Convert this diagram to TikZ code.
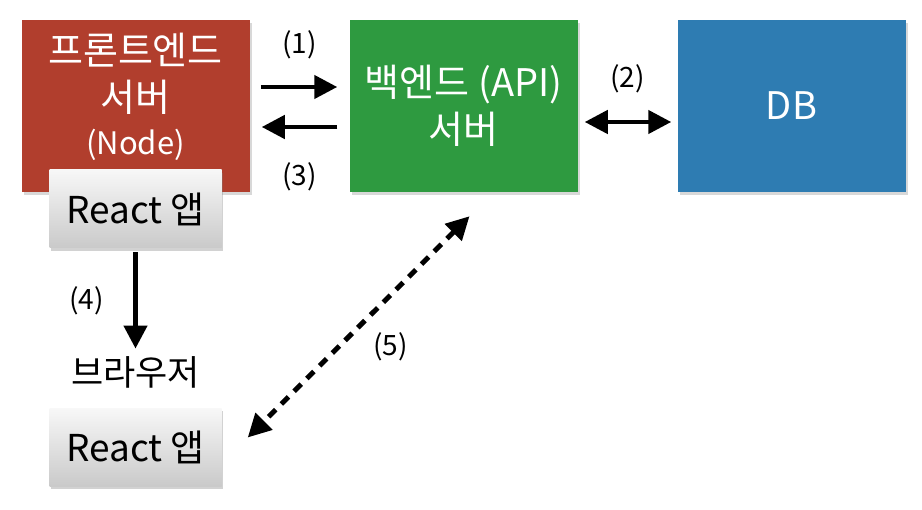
\documentclass[tikz,border=0pt]{standalone}
\usepackage{fontspec}
\setmainfont{Noto Sans CJK KR}
\usetikzlibrary{arrows.meta,shadows}
\definecolor{frontred}{RGB}{177,62,45}
\definecolor{backgreen}{RGB}{46,154,64}
\definecolor{dbblue}{RGB}{46,124,178}

\begin{document}
\begin{tikzpicture}[x=1pt,y=-1pt,>={Triangle[length=23pt,width=23pt]},line width=4.5pt,node distance=328pt,
                s node/.style={minimum width=228pt,minimum height=172pt,inner sep=0pt,text=white,align=center,
                font=\fontsize{38}{47}\selectfont,drop shadow={opacity=0.3,shadow xshift=2pt,shadow yshift=-3pt}},
                r node/.style={minimum width=172pt,minimum height=78pt,inner sep=0pt,top color=gray!6,bottom color=gray!42,
                font=\fontsize{37}{42}\selectfont,drop shadow={opacity=0.35,shadow xshift=1pt,shadow yshift=-3pt}},
                l node/.style={font=\fontsize{28}{32}\selectfont}]

    \path[fill=white] (0,0) rectangle (922,510);

    \node[s node,fill=frontred] (front) at (135.5,106) {};
    \node[text=white,align=center,font=\fontsize{38}{47}\selectfont] (fronttext) at ([yshift=9pt]front.center)
        {프론트엔드\\서버\\[-4pt]{\fontsize{31}{36}\selectfont (Node)}};
    \node[s node,fill=backgreen] (back) [right of=front] {백엔드 (API)\\서버};
    \node[s node,fill=dbblue] (db) [right of=back] {DB};

    \node[r node] (apptop) [below of=front,node distance=103pt] {React 앱};
    \node[font=\fontsize{35}{40}\selectfont] (browser) [below of=apptop,node distance=163pt] {브라우저};
    \node[r node] (appbot) [below of=browser,node distance=75.5pt] {React 앱};

    \coordinate (d1) at ([xshift=6pt,yshift=-22pt]back.south);
    \coordinate (d2) at ([xshift=24pt,yshift=10pt]appbot.east);

    \draw[->,shorten <=9pt,shorten >=10pt] ([yshift=19pt]front.east) -- node[l node,yshift=42pt] (l1) {(1)} ([yshift=19pt]back.west);
    \draw[->,shorten <=10pt,shorten >=10pt] ([yshift=-21pt]back.west) -- node[l node,yshift=-50pt] (l3) {(3)} ([yshift=-21pt]front.east);
    \draw[<->,shorten <=5pt,shorten >=4pt] ([yshift=-16pt]back.east) -- node[l node,yshift=43pt] (l2) {(2)} ([yshift=-16pt]db.west);
    \draw[->,shorten <=2pt,shorten >=2pt] (apptop.south) -- node[l node,xshift=-49pt] (l4) {(4)} (browser.north);
    \draw[<->,line width=5pt,dash pattern=on 10pt off 8pt] (d1) -- node[l node,xshift=32pt,yshift=-20pt] (l5) {(5)} (d2);

\end{tikzpicture}
\end{document}
